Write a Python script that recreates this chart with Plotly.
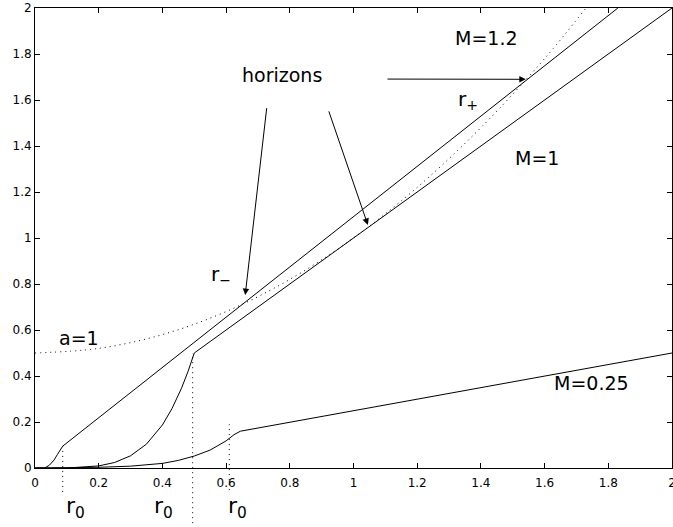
import plotly.graph_objects as go

# ---- data ----
m12_x = [0, 0.03, 0.045, 0.06, 0.07, 0.08, 0.087, 1.83]
m12_y = [0, 0, 0.012, 0.035, 0.058, 0.082, 0.095, 2.0]

m1_x = [0, 0.1, 0.2, 0.25, 0.3, 0.35, 0.4, 0.43, 0.46, 0.48, 0.5, 2.0]
m1_y = [0, 0.0, 0.009, 0.024, 0.053, 0.104, 0.187, 0.258, 0.347, 0.418, 0.5, 2.0]

m025_x = [0, 0.1, 0.2, 0.3, 0.4, 0.45, 0.5, 0.55, 0.6, 0.625, 0.645, 2.0]
m025_y = [0, 0, 0.003, 0.008, 0.02, 0.033, 0.052, 0.078, 0.118, 0.145, 0.16, 0.5]

a1_x = [0, 0.2, 0.4, 0.6, 0.8, 1.0, 1.2, 1.4, 1.6, 1.73]
a1_y = [0.5, 0.52, 0.58, 0.68, 0.82, 1.0, 1.22, 1.48, 1.78, 2.0]

r0_x = [0.087, 0.495, 0.61]
r0_top = [0.114, 0.5, 0.19]

tick_vals = [0, 0.2, 0.4, 0.6, 0.8, 1.0, 1.2, 1.4, 1.6, 1.8, 2.0]
tick_text = ["0", "0.2", "0.4", "0.6", "0.8", "1", "1.2", "1.4", "1.6", "1.8", "2"]

FONT = "DejaVu Sans"

fig = go.Figure()
line = dict(color="black", width=1)
for xs, ys in [(m12_x, m12_y), (m1_x, m1_y), (m025_x, m025_y)]:
    fig.add_trace(go.Scatter(x=xs, y=ys, mode="lines", line=line,
                             showlegend=False, hoverinfo="skip"))
fig.add_trace(go.Scatter(x=a1_x, y=a1_y, mode="lines",
                         line=dict(color="black", width=1, dash="1px,4px", shape="spline"),
                         showlegend=False, hoverinfo="skip"))

# dotted r0 markers (extend below the axis)
r0_bottom = [-0.052, -0.12, -0.048]
for xv, yt, yb in zip(r0_x, r0_top, r0_bottom):
    fig.add_shape(type="line", xref="x", yref="paper", x0=xv, x1=xv,
                  y0=yb, y1=yt / 2.0,
                  line=dict(color="black", width=1, dash="1px,4px"))

tfont = dict(family=FONT, size=19, color="black")
anns = [
    dict(x=0.777, y=1.709, text="horizons"),
    dict(x=1.417, y=1.868, text="M=1.2"),
    dict(x=1.577, y=1.348, text="M=1"),
    dict(x=0.137, y=0.565, text="a=1"),
    dict(x=1.748, y=0.37, text="M=0.25"),
]
for a in anns:
    fig.add_annotation(x=a["x"], y=a["y"], text=a["text"], showarrow=False,
                       font=tfont, xanchor="center", yanchor="middle")

fig.add_annotation(x=1.323, y=1.6, text="r<sub>+</sub>", showarrow=False,
                   font=dict(family=FONT, size=20, color="black"),
                   xanchor="left", yanchor="middle")
fig.add_annotation(x=0.545, y=0.84, text="r<sub>−</sub>", showarrow=False,
                   font=dict(family=FONT, size=20, color="black"),
                   xanchor="left", yanchor="middle")

# arrows
arrows = [
    (0.66, 0.752, 0.728, 1.571),
    (1.045, 1.057, 0.921, 1.557),
    (1.541, 1.69, 1.102, 1.691),
]
for tx, ty, sx, sy in arrows:
    fig.add_annotation(x=tx, y=ty, ax=sx, ay=sy, axref="x", ayref="y",
                       xref="x", yref="y", text="", showarrow=True,
                       arrowhead=2, arrowsize=1.3, arrowwidth=1, arrowcolor="black")

# r0 labels below the axis
for xv in [0.128, 0.404, 0.636]:
    fig.add_annotation(x=xv, y=-0.085, xref="x", yref="paper",
                       text="r<sub>0</sub>", showarrow=False,
                       font=dict(family=FONT, size=22, color="black"),
                       xanchor="center", yanchor="middle")

axis = dict(range=[0, 2], tickvals=tick_vals, ticktext=tick_text,
            ticks="inside", ticklen=5, tickcolor="black", tickwidth=1,
            showline=True, linecolor="black", linewidth=1, mirror="ticks",
            showgrid=False, zeroline=False, ticklabeloverflow="allow",
            tickfont=dict(family=FONT, size=12, color="black"))

fig.update_layout(
    width=673, height=527,
    margin=dict(l=35, r=1, t=8, b=59, autoexpand=False),
    paper_bgcolor="white", plot_bgcolor="white",
    xaxis=dict(axis, ticklabelstandoff=4), yaxis=axis,
    showlegend=False,
)

fig.write_html(
    "out.html",
    config={"displayModeBar": False},
    post_script="document.body.style.margin='0';document.body.style.overflow='hidden';",
)
